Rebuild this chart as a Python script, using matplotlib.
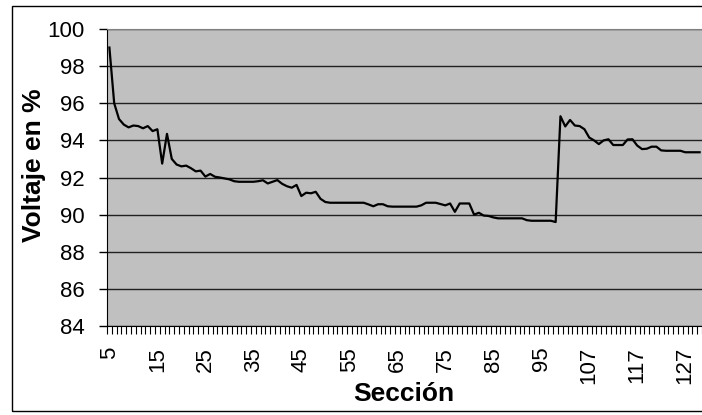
import matplotlib
matplotlib.use('Agg')
import matplotlib.pyplot as plt
from matplotlib.patches import Rectangle

plt.rcParams['font.family'] = ['Liberation Sans', 'DejaVu Sans']

# Sections: 5..98, then 101..130 (jump at the regulator)
secciones = list(range(5, 99)) + list(range(101, 131))

voltaje = [
    99.0, 96.0, 95.15, 94.85, 94.7, 94.8, 94.77, 94.65, 94.77, 94.5,
    94.6, 92.75, 94.35, 93.0, 92.7, 92.6, 92.64, 92.5, 92.33, 92.37,
    92.05, 92.19, 92.04, 92.0, 91.95, 91.9, 91.8, 91.77, 91.77, 91.77,
    91.77, 91.8, 91.85, 91.68, 91.77, 91.86, 91.66, 91.53, 91.45, 91.6,
    91.0, 91.18, 91.15, 91.23, 90.85, 90.68, 90.64, 90.64, 90.64, 90.64,
    90.64, 90.64, 90.64, 90.64, 90.55, 90.45, 90.56, 90.56, 90.45, 90.43,
    90.43, 90.43, 90.43, 90.43, 90.43, 90.5, 90.64, 90.64, 90.64, 90.57,
    90.5, 90.6, 90.15, 90.6, 90.6, 90.6, 90.0, 90.1, 89.95, 89.93,
    89.85, 89.8, 89.8, 89.8, 89.8, 89.8, 89.8, 89.7, 89.67, 89.67,
    89.67, 89.67, 89.67, 89.6, 95.3, 94.75, 95.1, 94.8, 94.77, 94.6,
    94.15, 94.0, 93.8, 94.0, 94.06, 93.75, 93.75, 93.75, 94.05, 94.06,
    93.72, 93.53, 93.55, 93.66, 93.66, 93.46, 93.44, 93.44, 93.44, 93.44,
    93.36, 93.36, 93.36, 93.36,
]

y_ticks = list(range(84, 101, 2))

fig = plt.figure(figsize=(7.02, 4.15), dpi=100)
ax = fig.add_axes([107 / 702, 1 - 326 / 415, 595 / 702, 297 / 415])

# outer chart border
fig.patches.append(Rectangle((12 / 702, 4 / 415), 1.0, 405 / 415, transform=fig.transFigure,
                             fill=False, edgecolor='black', linewidth=1.0))

idx = list(range(len(voltaje)))
ax.set_facecolor('#c0c0c0')
ax.plot(idx, voltaje, color='black', linewidth=1.6, zorder=3)

ax.set_xlim(-0.5, len(voltaje) - 0.5)
ax.set_ylim(84, 100)
ax.set_yticks(y_ticks)
ax.set_yticklabels([str(v) for v in y_ticks], fontsize=16)
ax.yaxis.grid(True, color='#202020', linewidth=1.0)
ax.set_axisbelow(True)
ax.tick_params(axis='y', direction='out', length=6, width=1, pad=10)

major = idx[::10]
ax.set_xticks(major)
ax.set_xticklabels([str(secciones[i]) for i in major], rotation=90, fontsize=16)
ax.set_xticks([i - 0.5 for i in range(len(voltaje) + 1)], minor=True)
ax.tick_params(axis='x', which='major', length=0, pad=15)
ax.tick_params(axis='x', which='minor', direction='out', length=6, width=0.8)

ax.spines['top'].set_color('#808080')
ax.spines['right'].set_visible(False)
ax.spines['left'].set_color('black')
ax.spines['bottom'].set_color('black')

fig.text(404 / 702, 1 - 394 / 415, 'Sección', ha='center', va='center',
         fontsize=19, fontweight='bold')
fig.text(34 / 702, 1 - 165 / 415, 'Voltaje en %', ha='center', va='center',
         rotation=90, fontsize=19, fontweight='bold')

fig.savefig('out.png', dpi=100)
